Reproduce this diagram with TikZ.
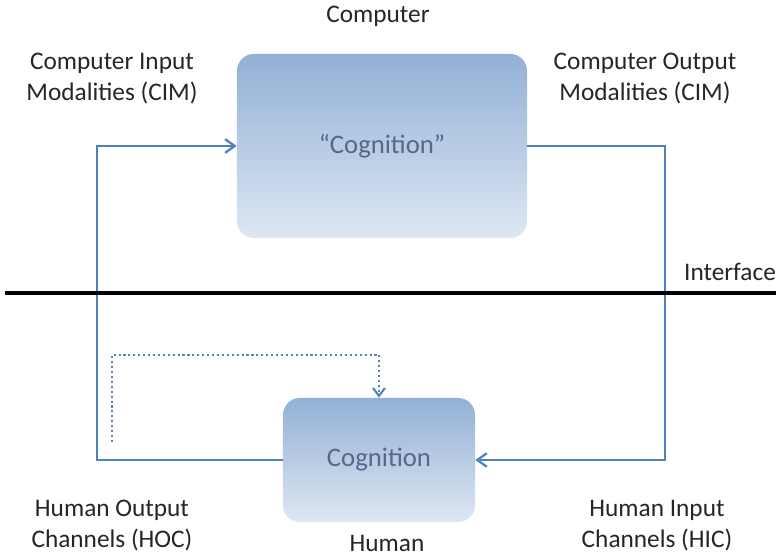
\documentclass[tikz,border=0pt]{standalone}
\usepackage{fontspec}
\setmainfont{Carlito}
\usetikzlibrary{arrows.meta,positioning}

\definecolor{boxtop}{RGB}{146,176,214}
\definecolor{boxbot}{RGB}{222,231,243}
\definecolor{linkblue}{RGB}{79,129,189}
\definecolor{intext}{RGB}{85,105,135}

\begin{document}
\begin{tikzpicture}[x=0.025cm, y=-0.025cm,
  cog/.style={rounded corners=12pt, top color=boxtop, bottom color=boxbot, draw=none, align=center, font=\fontsize{19}{22}\selectfont, text=intext},
  lbl/.style={align=center, font=\fontsize{18}{22}\selectfont, text=black!85},
  link/.style={draw=linkblue, line width=1.6pt, -{Straight Barb[length=2.4mm,width=3.4mm]}},
  loop/.style={draw=linkblue, line width=1.5pt, dotted, -{Straight Barb[length=2mm,width=3mm]}}
]
\useasboundingbox (0,0) rectangle (776,557);

\node[cog, minimum width=7.25cm, minimum height=4.6cm] (ccog) at (382,146) {``Cognition''};
\node[cog, minimum width=4.8cm, minimum height=3.1cm] (hcog) at (379,460) {Cognition};

\node[lbl] (comp) at (378,16) {Computer};
\node[lbl] (cim) at (112,79) {Computer Input\\Modalities (CIM)};
\node[lbl] (com) at (645,79) {Computer Output\\Modalities (CIM)};
\node[lbl] (hoc) at (112,526) {Human Output\\Channels (HOC)};
\node[lbl] (hic) at (657,526) {Human Input\\Channels (HIC)};
\node[lbl] (human) at (387,543) {Human};
\node[lbl] (iface) at (730,272) {Interface};

\coordinate (lft) at (97,300);
\coordinate (rgt) at (665,300);
\coordinate (dstart) at (112,442);
\coordinate (dtop) at (112,355);

\draw[link] (hcog.west) -| (lft) |- (ccog.west);
\draw[link] (ccog.east) -| (rgt) |- (hcog.east);
\draw[loop] (dstart) -- (dtop) -| (hcog.north);

\draw[line width=2.2pt] (5,293) -- (776,293);

\end{tikzpicture}
\end{document}
